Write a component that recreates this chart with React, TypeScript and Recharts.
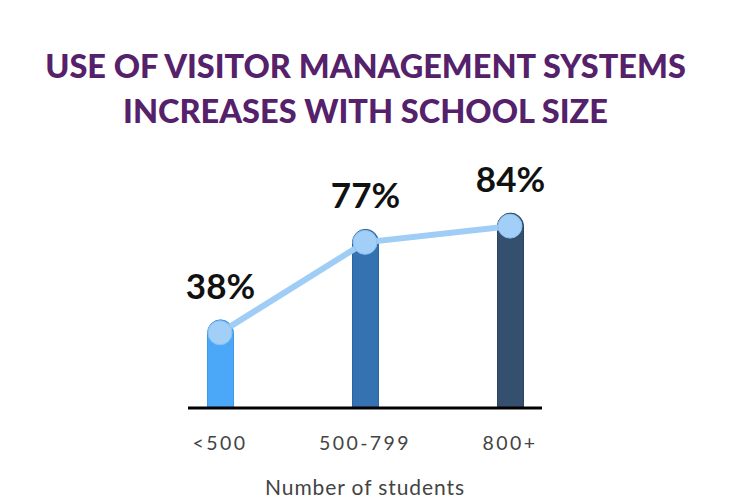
import React from 'react';
import { ComposedChart, Bar, Line, XAxis, YAxis, Cell, LabelList, Label } from 'recharts';

const categories = ['<500', '500-799', '800+'];
const values = [38, 77, 84];
const barColors = ['#4ba7f8', '#3572b2', '#34506e'];
const barStrokes = ['#3f97e6', '#2c63a0', '#2b4560'];
const titleLines = ['USE OF VISITOR MANAGEMENT SYSTEMS', 'INCREASES WITH SCHOOL SIZE'];
const axisTitle = 'Number of students';

const data = categories.map((c, i) => ({ name: c, value: values[i], line: values[i] }));

const FONT = 'Lato, "Noto Sans", sans-serif';

const ValueLabel = (props: any) => {
  const { x, y, width, value } = props;
  return (
    <text
      x={x + width / 2}
      y={y - 21}
      textAnchor="middle"
      fontFamily={FONT}
      fontWeight={700}
      fontSize={35}
      fill="#111111"
    >
      {value}%
    </text>
  );
};

const Tick = (props: any) => {
  const { x, y, payload } = props;
  return (
    <text
      x={x}
      y={y + 34}
      textAnchor="middle"
      fontFamily={FONT}
      fontSize={19.5}
      letterSpacing={2.4}
      fill="#444444"
    >
      {payload.value}
    </text>
  );
};

export default function App() {
  return (
    <div style={{ position: 'absolute', left: 0, top: 0, width: 731, height: 504, background: '#ffffff' }}>
      <style>{`.shift-line, .recharts-line-dots { transform: translateY(13px); }`}</style>
      <div
        style={{
          position: 'absolute',
          left: 0,
          top: 43,
          width: 731,
          textAlign: 'center',
          fontFamily: FONT,
          fontWeight: 900,
          fontSize: 32.5,
          lineHeight: '45px',
          color: '#55216a',
        }}
      >
        {titleLines.map((t, i) => (
          <div key={i}>{t}</div>
        ))}
      </div>
      <div style={{ position: 'absolute', left: 0, top: 0 }}>
        <ComposedChart
          width={731}
          height={504}
          data={data}
          margin={{ top: 176, right: 189, bottom: 0, left: 188 }}
        >
          <YAxis hide domain={[0, 100]} type="number" />
          <XAxis
            dataKey="name"
            scale="point"
            padding={{ left: 32, right: 32 }}
            height={96}
            axisLine={{ stroke: '#000000', strokeWidth: 3 }}
            tickLine={false}
            tick={<Tick />}
            interval={0}
          >
            <Label
              value={axisTitle}
              position="insideBottom"
              offset={9}
              style={{ fontFamily: FONT, fontSize: 21, fill: '#444444', letterSpacing: 0.9 }}
            />
          </XAxis>
          <Bar dataKey="value" barSize={26} radius={[13, 13, 0, 0]} isAnimationActive={false}>
            {data.map((d, i) => (
              <Cell key={d.name} fill={barColors[i]} stroke={barStrokes[i]} strokeWidth={1} />
            ))}
            <LabelList dataKey="value" content={<ValueLabel />} />
          </Bar>
          <Line
            className="shift-line"
            dataKey="line"
            type="linear"
            stroke="#9fcdf6"
            strokeWidth={6}
            dot={{ r: 12, fill: '#a2cff8', stroke: '#8dbff0', strokeWidth: 1 }}
            activeDot={false}
            isAnimationActive={false}
          />
        </ComposedChart>
      </div>
    </div>
  );
}
